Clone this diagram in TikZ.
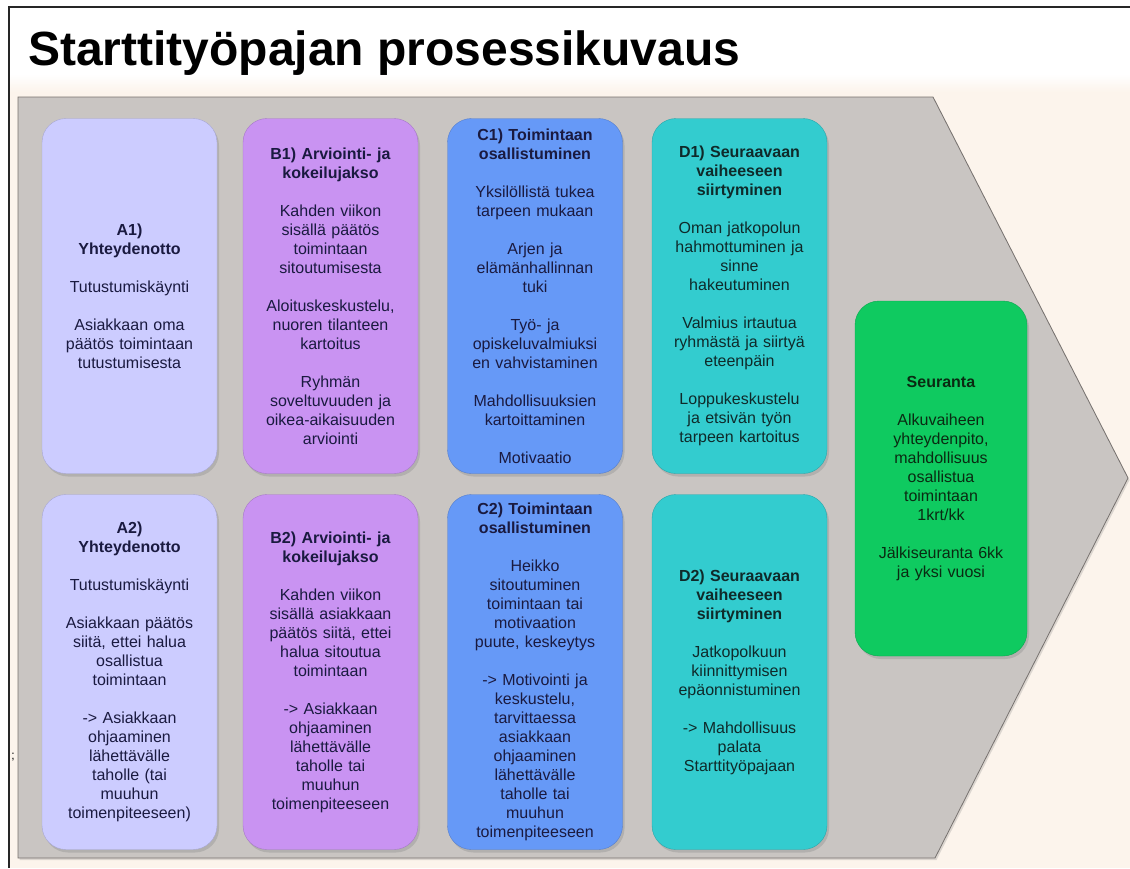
\documentclass[tikz,border=0pt]{standalone}
\usepackage{fontspec}
\setmainfont{Liberation Sans}
\usetikzlibrary{shadows}
\definecolor{bgcream}{HTML}{FCF4EC}
\definecolor{arrowgray}{HTML}{C9C5C2}
\definecolor{arrowline}{HTML}{77726F}
\definecolor{colA}{HTML}{CCCCFF}
\definecolor{colB}{HTML}{C993F2}
\definecolor{colC}{HTML}{6699F7}
\definecolor{colD}{HTML}{33CCCF}
\definecolor{colS}{HTML}{0FCA60}
\definecolor{txtblue}{HTML}{1A1A40}
\definecolor{txtteal}{HTML}{0F2A2A}
\definecolor{txtgreen}{HTML}{0A2A12}
\newcommand{\blankline}{\\[19pt]}

\begin{document}
\begin{tikzpicture}[x=1pt,y=-1pt,
	phase/.style={rounded corners=24pt, draw=#1!82!black, fill=#1, minimum width=175pt, minimum height=355pt, text width=168pt, inner sep=0pt, align=center, font=\fontsize{16}{19}\selectfont, drop shadow={shadow xshift=2pt, shadow yshift=-3pt, opacity=.3}}]
			\useasboundingbox (0,0) rectangle (1130,868);
			\fill[white] (0,0) rectangle (1130,868);
			\shade[top color=white, bottom color=bgcream] (9,74) rectangle (1130,92);
			\fill[bgcream] (9,92) rectangle (1130,868);
			\draw[line width=1.6pt, black!85] (9,868) -- (9,7) -- (1130,7);
			\node[anchor=base west, inner sep=0pt, font=\fontsize{48}{56}\selectfont\bfseries] (title) at (28,65) {Starttityöpajan prosessikuvaus};
			\filldraw[fill=arrowgray, draw=arrowline, line width=.8pt, drop shadow={shadow xshift=1.5pt, shadow yshift=-2pt, opacity=.25}] (18,97) -- (933,97) -- (1128,478) -- (935,858) -- (18,858) -- cycle;
			\node[font=\fontsize{12}{13}\selectfont, inner sep=0pt] (semi) at (13,757) {;};
			% first row
			\node[phase=colA, text=txtblue] (A1) at (129.5,296) {\textbf{A1)}\\ \textbf{Yhteydenotto}\blankline Tutustumiskäynti\blankline Asiakkaan oma\\ päätös toimintaan\\ tutustumisesta};
			\node[phase=colB, text=txtblue] (B1) at (330.5,296) {\textbf{B1) Arviointi- ja}\\ \textbf{kokeilujakso}\blankline Kahden viikon\\ sisällä päätös\\ toimintaan\\ sitoutumisesta\blankline Aloituskeskustelu,\\ nuoren tilanteen\\ kartoitus\blankline Ryhmän\\ soveltuvuuden ja\\ oikea-aikaisuuden\\ arviointi};
			\node[phase=colC, text=txtblue] (C1) at (535,296) {\textbf{C1) Toimintaan}\\ \textbf{osallistuminen}\blankline Yksilöllistä tukea\\ tarpeen mukaan\blankline Arjen ja\\ elämänhallinnan\\ tuki\blankline Työ- ja\\ opiskeluvalmiuksi\\ en vahvistaminen\blankline Mahdollisuuksien\\ kartoittaminen\blankline Motivaatio};
			\node[phase=colD, text=txtteal] (D1) at (739.5,296) {\textbf{D1) Seuraavaan}\\ \textbf{vaiheeseen}\\ \textbf{siirtyminen}\blankline Oman jatkopolun\\ hahmottuminen ja\\ sinne\\ hakeutuminen\blankline Valmius irtautua\\ ryhmästä ja siirtyä\\ eteenpäin\blankline Loppukeskustelu\\ ja etsivän työn\\ tarpeen kartoitus};
			% second row
			\node[phase=colA, text=txtblue] (A2) at (129.5,672) {\textbf{A2)}\\ \textbf{Yhteydenotto}\blankline Tutustumiskäynti\blankline Asiakkaan päätös\\ siitä, ettei halua\\ osallistua\\ toimintaan\blankline -> Asiakkaan\\ ohjaaminen\\ lähettävälle\\ taholle (tai\\ muuhun\\ toimenpiteeseen)};
			\node[phase=colB, text=txtblue] (B2) at (330.5,672) {\textbf{B2) Arviointi- ja}\\ \textbf{kokeilujakso}\blankline Kahden viikon\\ sisällä asiakkaan\\ päätös siitä, ettei\\ halua sitoutua\\ toimintaan\blankline -> Asiakkaan\\ ohjaaminen\\ lähettävälle\\ taholle tai\\ muuhun\\ toimenpiteeseen};
			\node[phase=colC, text=txtblue] (C2) at (535,672) {\textbf{C2) Toimintaan}\\ \textbf{osallistuminen}\blankline Heikko\\ sitoutuminen\\ toimintaan tai\\ motivaation\\ puute, keskeytys\blankline -> Motivointi ja\\ keskustelu,\\ tarvittaessa\\ asiakkaan\\ ohjaaminen\\ lähettävälle\\ taholle tai\\ muuhun\\ toimenpiteeseen};
			\node[phase=colD, text=txtteal] (D2) at (739.5,672) {\textbf{D2) Seuraavaan}\\ \textbf{vaiheeseen}\\ \textbf{siirtyminen}\blankline Jatkopolkuun\\ kiinnittymisen\\ epäonnistuminen\blankline -> Mahdollisuus\\ palata\\ Starttityöpajaan};
			\node[phase=colS, text=txtgreen, minimum width=172pt] (seur) at (941,478.5) {\textbf{Seuranta}\blankline Alkuvaiheen\\ yhteydenpito,\\ mahdollisuus\\ osallistua\\ toimintaan\\ 1krt/kk\blankline Jälkiseuranta 6kk\\ ja yksi vuosi};
\end{tikzpicture}
\end{document}
